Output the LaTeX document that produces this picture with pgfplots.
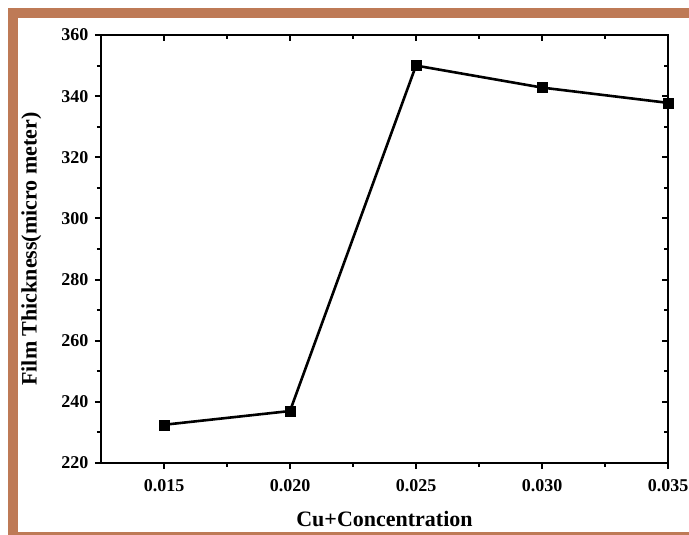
\documentclass[border=0pt]{standalone}
\usepackage{fontspec}
\setmainfont{Liberation Serif}
\usepackage{pgfplots}
\pgfplotsset{compat=1.18}
\definecolor{framebrown}{RGB}{190,122,86}
\begin{document}
\begin{tikzpicture}[x=1pt,y=1pt]
\clip (0,0) rectangle (689,535);
\fill[white] (0,0) rectangle (689,535);
% decorative brown frame
\fill[framebrown] (8,3) rectangle (18,527);
\fill[framebrown] (8,517) rectangle (689,527);
\fill[framebrown] (8,0) rectangle (689,3);
\pgfplotsset{
  common/.style={
    at={(101pt,72pt)}, anchor=south west,
    width=567pt, height=428pt, scale only axis,
    xmin=0.0125, xmax=0.035, ymin=220, ymax=360,
    xtick={0.015,0.020,0.025,0.030,0.035},
    ytick={220,240,...,360},
    minor x tick num=1, minor y tick num=1,
    axis line style={line width=2.2pt},
    every tick/.style={black, line width=2pt},
    major tick length=6pt, minor tick length=4pt,
  }
}
\begin{axis}[common,
    axis lines=box,
    xtick pos=left, ytick pos=left,
    tick align=outside,
    /pgf/number format/assume math mode=true,
    ticklabel style={font=\fontsize{18}{18}\selectfont\bfseries},
    x tick label style={/pgf/number format/fixed, /pgf/number format/fixed zerofill, /pgf/number format/precision=3, yshift=-7pt},
    y tick label style={xshift=-3pt},
    scaled x ticks=false,
    xlabel={Cu+Concentration},
    ylabel={Film Thickness(micro meter)},
    label style={font=\fontsize{22}{22}\selectfont\bfseries},
    xlabel style={at={(axis description cs:0.5,-0.131)}, anchor=center},
    ylabel style={at={(axis description cs:-0.123,0.5)}, anchor=center},
    clip=false,
  ]
  \addplot[black, line width=2.6pt, mark=square*, mark size=5pt,
           mark options={solid, fill=black, line width=0.5pt}]
    coordinates {
      (0.015,232.5)
      (0.020,237.0)
      (0.025,350.0)
      (0.030,342.8)
      (0.035,337.8)
    };
\end{axis}
\begin{axis}[common,
    axis lines=box,
    xtick pos=right, ytick pos=right,
    tick align=inside,
    xticklabels={}, yticklabels={},
    scaled x ticks=false,
  ]
\end{axis}
\end{tikzpicture}
\end{document}
